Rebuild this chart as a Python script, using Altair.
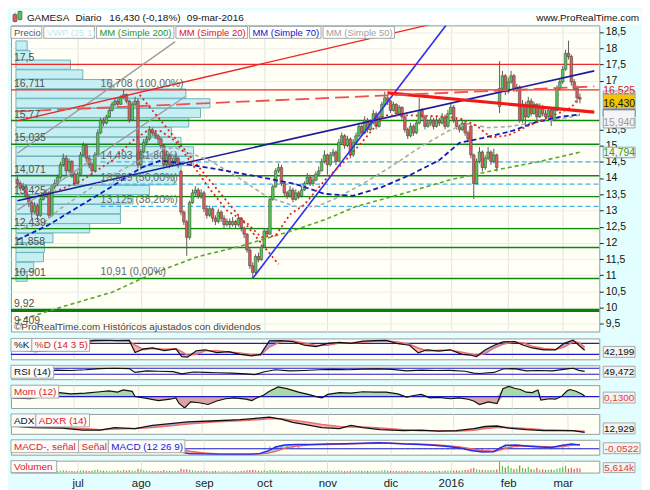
import json
import altair as alt
import pandas as pd

FONT = "Liberation Sans"
W = 592
HM = 308

# ---------------- daily prices (197 sessions, mid-Jun 2015 .. 09-mar-2016) ----------------
close = [13.83, 13.68, 13.73, 13.44, 13.24, 12.95, 13.14, 12.85, 13.34, 13.44,
         13.54, 12.85, 13.73, 13.83, 14.02, 14.41, 14.61, 14.22, 14.51, 14.12,
         13.83, 14.12, 14.71, 15.00, 14.61, 14.41, 14.22, 14.71, 15.39, 15.78,
         15.69, 15.88, 16.08, 16.27, 16.37, 16.27, 16.47, 16.57, 16.37, 15.78,
         16.27, 16.37, 14.41, 14.80, 15.10, 15.20, 15.49, 15.39, 15.30, 15.20,
         15.00, 14.41, 14.71, 14.41, 14.51, 14.61, 14.41, 12.95, 12.65, 12.17,
         13.24, 13.54, 13.63, 13.44, 13.54, 13.05, 12.85, 13.05, 12.76, 12.66,
         12.95, 12.76, 12.56, 12.66, 12.56, 12.66, 12.56, 12.76, 12.46, 12.27,
         11.78, 11.29, 11.09, 11.58, 11.48, 11.87, 12.36, 12.27, 13.34, 13.73,
         14.22, 14.32, 13.83, 13.54, 13.44, 13.63, 13.34, 13.54, 13.44, 13.63,
         13.83, 14.02, 13.83, 13.93, 14.12, 14.22, 14.51, 14.71, 14.41, 14.71,
         14.80, 14.51, 15.10, 15.30, 15.00, 15.20, 14.71, 15.10, 15.30, 15.59,
         15.39, 15.78, 15.49, 15.69, 15.98, 15.59, 15.88, 16.27, 16.47, 16.37,
         16.08, 16.27, 15.98, 16.18, 15.88, 15.49, 15.30, 15.59, 15.39, 15.69,
         16.08, 15.88, 15.59, 15.69, 15.78, 15.59, 15.78, 15.69, 15.88, 15.59,
         15.98, 16.18, 15.78, 15.59, 15.49, 15.69, 15.39, 15.20, 14.71, 13.83,
         14.51, 14.80, 14.32, 14.61, 14.80, 14.51, 14.71, 14.32, 16.76, 17.15,
         16.66, 16.96, 17.15, 16.76, 16.80, 15.78, 16.27, 15.88, 16.37, 15.98,
         16.27, 15.88, 16.18, 15.98, 15.88, 16.08, 15.78, 16.08, 16.76, 16.96,
         17.35, 17.84, 17.74, 16.96, 16.76, 16.47, 16.43]
high = [14.05, 13.90, 13.85, 13.80, 13.50, 13.30, 13.25, 13.20, 13.40, 13.55,
        13.65, 13.60, 13.80, 13.95, 14.10, 14.50, 14.75, 14.70, 14.60, 14.55,
        14.20, 14.20, 14.80, 15.10, 15.05, 14.70, 14.50, 14.80, 15.50, 15.85,
        15.85, 15.95, 16.15, 16.35, 16.45, 16.45, 16.55, 16.71, 16.60, 16.40,
        16.35, 16.50, 16.45, 14.90, 15.20, 15.30, 15.60, 15.55, 15.45, 15.35,
        15.25, 15.05, 14.85, 14.75, 14.60, 14.75, 14.65, 14.25, 13.00, 12.70,
        13.30, 13.65, 13.75, 13.70, 13.65, 13.60, 13.15, 13.15, 13.10, 12.85,
        13.05, 13.00, 12.85, 12.75, 12.75, 12.80, 12.70, 12.85, 12.80, 12.50,
        12.30, 11.85, 11.40, 11.65, 11.70, 11.95, 12.45, 12.45, 13.40, 13.80,
        14.30, 14.45, 14.40, 13.90, 13.60, 13.75, 13.70, 13.65, 13.60, 13.75,
        13.90, 14.15, 14.10, 14.05, 14.20, 14.35, 14.60, 14.85, 14.75, 14.80,
        14.90, 14.85, 15.20, 15.40, 15.35, 15.30, 15.25, 15.20, 15.40, 15.70,
        15.65, 15.90, 15.85, 15.80, 16.10, 16.05, 16.00, 16.35, 16.66, 16.55,
        16.40, 16.35, 16.30, 16.25, 16.20, 15.95, 15.55, 15.70, 15.65, 15.75,
        16.47, 16.15, 15.95, 15.80, 15.90, 15.85, 15.90, 15.85, 16.00, 15.95,
        16.10, 16.30, 16.25, 15.85, 15.65, 15.80, 15.75, 15.45, 15.65, 14.75,
        14.60, 14.95, 14.85, 14.70, 14.95, 14.85, 14.90, 14.75, 17.60, 17.30,
        17.20, 17.10, 17.30, 17.20, 16.90, 16.85, 16.40, 16.35, 16.50, 16.45,
        16.35, 16.30, 16.30, 16.25, 16.10, 16.20, 16.15, 16.20, 16.85, 17.05,
        17.45, 17.95, 18.23, 17.80, 17.05, 16.85, 16.60]
low = [13.75, 13.60, 13.60, 13.35, 13.10, 12.75, 12.90, 12.70, 12.80, 13.30,
       13.40, 12.75, 12.80, 13.65, 13.75, 13.95, 14.35, 14.10, 14.15, 14.00,
       13.75, 13.80, 14.10, 14.65, 14.50, 14.30, 14.10, 14.20, 14.70, 15.35,
       15.60, 15.65, 15.85, 16.05, 16.20, 16.20, 16.25, 16.45, 16.30, 15.70,
       15.75, 16.20, 14.30, 14.25, 14.75, 15.00, 15.15, 15.30, 15.20, 15.05,
       14.90, 14.30, 14.35, 14.30, 14.35, 14.45, 14.30, 12.85, 12.55, 11.60,
       12.10, 13.20, 13.45, 13.35, 13.35, 12.95, 12.75, 12.80, 12.65, 12.55,
       12.60, 12.65, 12.45, 12.50, 12.45, 12.50, 12.45, 12.50, 12.35, 12.15,
       11.70, 11.20, 10.91, 11.00, 11.40, 11.45, 11.85, 12.20, 12.25, 13.30,
       13.70, 14.15, 13.75, 13.45, 13.35, 13.40, 13.25, 13.30, 13.35, 13.40,
       13.60, 13.80, 13.75, 13.75, 13.90, 14.05, 14.20, 14.45, 14.10, 14.35,
       14.65, 14.40, 14.50, 15.05, 14.90, 14.95, 14.60, 14.65, 15.05, 15.25,
       15.30, 15.35, 15.40, 15.45, 15.65, 15.50, 15.55, 15.85, 16.20, 16.25,
       16.00, 16.05, 15.90, 15.95, 15.80, 15.40, 15.20, 15.25, 15.30, 15.35,
       15.65, 15.80, 15.50, 15.55, 15.60, 15.50, 15.55, 15.60, 15.65, 15.50,
       15.55, 15.95, 15.70, 15.50, 15.40, 15.45, 15.30, 15.10, 14.60, 13.35,
       13.80, 14.45, 14.20, 14.25, 14.55, 14.40, 14.45, 14.20, 16.00, 16.70,
       16.55, 16.60, 16.90, 16.65, 16.65, 15.70, 15.70, 15.60, 15.85, 15.90,
       15.95, 15.75, 15.85, 15.90, 15.80, 15.85, 15.60, 15.75, 16.05, 16.70,
       16.90, 17.30, 17.65, 16.85, 16.70, 16.30, 16.30]
first_open = 13.95
gap_opens = {57: 14.20, 158: 15.60, 168: 16.20}
volume = [2500, 2000, 1800, 2200, 3000, 2600, 2000, 2400, 2800, 3200,
          2600, 3500, 3000, 2200, 2000, 2600, 3200, 2400, 2000, 2200,
          1800, 2200, 2800, 3000, 2600, 2000, 2400, 3600, 4200, 3000,
          2600, 2400, 2200, 2000, 2600, 3000, 2400, 3800, 2600, 3200,
          2800, 2400, 5200, 4200, 3000, 2600, 2400, 2200, 2000, 2400,
          2200, 3400, 2600, 2400, 2000, 2200, 2400, 5000, 4000, 4400,
          3800, 3000, 2400, 2200, 2600, 2400, 2000, 1800, 2000, 2200,
          1800, 1600, 1800, 2000, 1600, 1800, 2000, 1800, 2400, 2600,
          3200, 3600, 3800, 3000, 2600, 2400, 3000, 2200, 3400, 3000,
          2800, 2600, 2400, 2200, 2000, 2200, 2400, 2000, 1800, 2000,
          2200, 2400, 2000, 2200, 2400, 2600, 2800, 2400, 2200, 2600,
          2200, 2000, 2800, 2400, 2000, 2200, 2600, 2200, 2400, 2600,
          2400, 2600, 2200, 2400, 2600, 2200, 2400, 2800, 3000, 2600,
          2400, 2200, 2000, 2200, 2000, 2600, 2400, 2200, 2000, 1800,
          2600, 2200, 2000, 1800, 2000, 2200, 2000, 2400, 2200, 2600,
          2400, 2600, 2800, 3000, 2600, 3200, 3400, 3600, 5600, 6400,
          4400, 3800, 3600, 3400, 3200, 3000, 3400, 4000, 14500, 9000,
          7000, 8800, 6000, 4400, 5000, 9600, 6400, 5200, 7800, 4800,
          4200, 6400, 3800, 4000, 3600, 3400, 4200, 3600, 5200, 6000,
          7200, 9200, 5400, 6600, 4800, 6000, 5614]

month_idx = [21, 43, 65, 86, 108, 130, 151, 171, 190]
month_lbl = ["jul", "ago", "sep", "oct", "nov", "dic", "2016", "feb", "mar"]
# 16 and 16,5 sit under the value flags in the reference, so they are not shown
price_ticks = [9.5, 10, 10.5, 11, 11.5, 12, 12.5, 13, 13.5, 14, 14.5, 15, 15.5,
               17, 17.5, 18, 18.5]

# volume-at-price profile
prof_price = [18.08, 17.78, 17.49, 17.19, 16.89, 16.60, 16.30, 16.00, 15.71, 15.41,
              15.11, 14.82, 14.52, 14.23, 13.93, 13.63, 13.34, 13.04, 12.74, 12.45,
              12.15, 11.85, 11.56, 11.26, 10.96]
prof_width = [3.4, 4.4, 18.5, 22.8, 32.9, 58.7, 67.1, 63.8, 59.7, 53.7,
              57.0, 61.4, 61.4, 57.0, 54.7, 46.0, 40.3, 35.9, 35.9, 25.2,
              12.4, 9.4, 9.1, 5.7, 3.4]

levels_green = [15.77, 15.035, 14.071, 13.425, 12.439, 11.858, 10.901]
level_thick = [9.92]
levels_red = [17.5, 16.711]
lvl_price = [17.5, 16.711, 15.77, 15.035, 14.071, 13.425, 12.439, 11.858, 10.901, 9.92, 9.409]
lvl_text = ["17,5", "16,711", "15,77", "15,035", "14,071", "13,425", "12,439", "11,858",
            "10,901", "9,92", "9,409"]
fib_price = [16.708, 14.493, 13.809, 13.125, 10.91]
fib_text = ["16,708 (100,00%)", "14,493 (61,80%)", "13,809 (50,00%)", "13,125 (38,20%)",
            "10,91 (0,00%)"]
fib_dashed = [14.493, 13.809, 13.125]
fib_start = 29

# drawn trend lines (start index, start price, end index, end price)
seg_name = ["gray1", "gray2", "navy", "blue", "reddiag", "redthick", "reddash", "reddot"]
seg_i0 = [0, 0, 0, 82, 0, 128.9, 0, 42.6]
seg_p0 = [14.76, 13.01, 13.30, 10.91, 15.76, 16.62, 16.05, 16.56]
seg_i1 = [55, 58.4, 201, 149.3, 144, 201, 201, 91]
seg_p1 = [18.20, 16.50, 17.30, 18.70, 18.73, 16.03, 16.82, 11.34]

# moving averages
ma20_idx = [13, 23, 33, 40, 45, 50, 55, 60, 67, 73, 80, 85, 90, 95, 100, 107, 114, 120,
            128, 137, 147, 154, 160, 165, 171, 178, 186, 193, 196]
ma20_v = [13.57, 13.95, 14.54, 15.14, 15.44, 15.44, 15.14, 14.54, 13.66, 13.00, 12.61, 12.17,
          12.23, 12.88, 13.18, 13.92, 14.51, 15.10, 15.93, 15.93, 15.90, 15.84, 15.61, 15.25,
          15.31, 15.61, 15.90, 16.17, 16.525]
ma70_idx = [0, 11, 22, 33, 43, 50, 67, 84, 97, 107, 117, 127, 137, 147, 154, 162, 172, 181, 189, 196]
ma70_v = [12.09, 12.56, 13.15, 13.74, 14.31, 14.54, 14.31, 14.04, 13.81, 13.51, 13.45, 13.72,
          14.10, 14.55, 15.08, 15.23, 15.44, 15.73, 15.88, 15.96]
ma50_idx = [0, 9, 15, 30, 44, 50, 55, 67, 77, 87, 97, 104, 110, 120, 130, 141, 151, 157, 164,
            171, 181, 191, 196]
ma50_v = [12.41, 12.61, 13.06, 13.95, 14.60, 14.90, 14.93, 14.54, 14.01, 13.42, 13.12, 13.12,
          13.33, 13.80, 14.34, 14.99, 15.49, 15.67, 15.55, 15.58, 15.73, 15.85, 15.94]
ma200_idx = [0, 16, 33, 47, 63, 77, 96, 107, 118, 134, 151, 167, 181, 196]
ma200_v = [9.60, 10.04, 10.48, 11.05, 11.58, 11.88, 12.38, 12.71, 13.12, 13.51, 13.95, 14.25,
           14.49, 14.794]

# right-hand value flags of the price panel
val_p = [15.96, 15.94, 16.525, 16.43, 14.794]
val_t = ["15,960", "15,940", "16,525", "16,430", "14,794"]

# ---------------- indicators ----------------
stoch_idx = [0, 4, 8, 12, 16, 20, 24, 28, 32, 36, 40, 42, 45, 48, 52, 56, 58, 60, 63, 66,
             70, 74, 78, 82, 85, 88, 92, 96, 100, 104, 108, 112, 116, 120, 124, 128, 132, 136,
             139, 142, 146, 150, 154, 157, 159, 162, 165, 168, 172, 175, 178, 182, 186, 189,
             192, 194, 196]
stoch_k = [50, 40, 35, 42, 60, 70, 88, 96, 97, 95, 96, 30, 50, 55, 40, 50, 8, 5, 40, 45,
           30, 35, 20, 12, 20, 94, 95, 90, 70, 62, 80, 85, 80, 92, 95, 96, 78, 70, 28, 45,
           38, 45, 20, 15, 8, 45, 70, 88, 90, 70, 55, 45, 45, 80, 98, 70, 42.2]
stoch_d = [52, 45, 38, 38, 50, 62, 80, 92, 95, 95, 95, 70, 45, 52, 48, 50, 35, 15, 20, 40,
           40, 33, 28, 18, 15, 60, 90, 93, 82, 68, 70, 82, 83, 86, 92, 95, 88, 75, 55, 38,
           42, 42, 32, 22, 15, 25, 55, 75, 88, 82, 65, 52, 46, 60, 88, 85, 58]

rsi_idx = [0, 5, 10, 15, 20, 25, 30, 35, 40, 42, 46, 50, 55, 58, 62, 66, 70, 75, 80, 83,
           86, 90, 95, 100, 105, 110, 115, 120, 125, 130, 135, 140, 145, 150, 155, 158, 160,
           165, 168, 172, 176, 180, 185, 190, 192, 194, 196]
rsi_v = [45, 40, 48, 58, 55, 60, 68, 70, 68, 42, 52, 50, 48, 32, 45, 42, 40, 38, 32, 28,
         45, 60, 52, 55, 60, 62, 60, 64, 66, 62, 52, 58, 55, 56, 50, 38, 35, 42, 65, 68,
         52, 55, 53, 66, 70, 56, 49.5]

mom_idx = [0, 6, 12, 16, 20, 25, 30, 33, 36, 38, 41, 42, 46, 50, 54, 56, 57, 59, 61, 64,
           67, 70, 73, 76, 80, 82, 84, 86, 88, 91, 94, 98, 102, 104, 106, 108, 112, 116, 120,
           124, 128, 132, 135, 138, 140, 143, 146, 150, 153, 156, 158, 160, 163, 166, 168,
           170, 172, 174, 176, 178, 180, 181, 184, 186, 188, 190, 191, 193, 195, 196]
mom_v = [-0.3, -0.5, 0.2, 0.9, 0.6, 0.8, 1.1, 1.3, 1.0, 1.5, 1.2, 0.0, -0.4, -0.9, -0.6,
         -0.3, -1.5, -2.6, -1.2, -1.4, -1.8, -1.0, -0.5, -0.3, -0.6, -0.9, -0.2, 0.3, 1.2,
         2.2, 1.8, 1.0, 0.4, 0.0, -0.3, 0.5, 0.9, 0.8, 1.1, 1.0, 1.0, 0.6, -0.1, 0.3, 0.5,
         -0.3, -0.2, -0.5, -0.3, -0.6, -1.0, -1.8, -1.2, -1.6, 1.8, 2.3, 1.9, 1.6, 1.0, 0.9,
         1.5, -0.8, -0.5, -0.6, 0.0, 1.3, 1.6, 1.2, 0.6, 0.13]

adx_idx = [0, 7, 17, 24, 30, 35, 42, 48, 55, 60, 70, 78, 84, 88, 92, 96, 100, 106, 112, 116,
           120, 126, 134, 140, 146, 152, 158, 162, 166, 170, 176, 182, 188, 192, 196]
adx_v = [25, 22, 21, 17, 17, 22, 20, 26, 30, 33, 35, 37, 40, 42, 38, 32, 28, 22, 20, 26,
         22, 18, 16, 17, 15, 16, 20, 24, 25, 21, 18, 16, 16, 16, 12.929]
adxr_v = [26, 24, 22, 20, 18, 19, 20, 22, 26, 29, 33, 35, 37, 39, 39, 36, 33, 28, 24, 23,
          23, 21, 18, 16, 16, 15, 17, 20, 22, 22, 20, 18, 17, 16, 15]

macd_idx = [56, 58, 60, 65, 70, 75, 80, 84, 87, 90, 93, 97, 102, 108, 114, 120, 126, 130,
            135, 140, 145, 150, 154, 158, 162, 166, 168, 170, 174, 178, 182, 186, 190, 193, 196]
macd_v = [-0.2, -0.45, -0.6, -0.62, -0.65, -0.65, -0.66, -0.6, -0.3, 0.2, 0.45, 0.5, 0.5,
          0.55, 0.6, 0.65, 0.7, 0.65, 0.55, 0.5, 0.4, 0.25, 0.1, -0.2, -0.38, -0.35, 0.05,
          0.4, 0.45, 0.3, 0.2, 0.15, 0.4, 0.55, 0.45]
signal_v = [-0.05, -0.15, -0.3, -0.5, -0.6, -0.63, -0.64, -0.63, -0.55, -0.3, 0.05, 0.3,
            0.45, 0.5, 0.55, 0.6, 0.65, 0.66, 0.6, 0.55, 0.47, 0.35, 0.2, 0.0, -0.2, -0.3,
            -0.2, 0.05, 0.3, 0.35, 0.27, 0.2, 0.25, 0.4, 0.5]
hist_idx = list(range(84, 197, 2))
hist_v = [0.03, 0.1, 0.25, 0.35, 0.4, 0.35, 0.25, 0.2, 0.1, 0.05,
          0.05, 0.05, 0.05, 0.05, 0.05, 0.05, 0.05, 0.05, 0.05, 0.05,
          0.05, 0.05, 0.02, -0.01, -0.03, -0.05, -0.05, -0.05, -0.05, -0.06,
          -0.07, -0.08, -0.1, -0.1, -0.1, -0.1, -0.15, -0.2, -0.2, -0.18,
          -0.1, -0.05, 0.25, 0.35, 0.3, 0.15, 0.05, -0.05, -0.07, -0.07,
          -0.05, -0.05, 0.1, 0.15, 0.15, 0.05, -0.05]

# ---------------- tables ----------------
n = len(close)
opens = [first_open] + close[:-1]
for k, v in gap_opens.items():
    opens[k] = v
df = pd.DataFrame({"i": list(range(n)), "open": opens, "close": close, "high": high,
                   "low": low, "vol": volume})
df["dir"] = ["up" if c >= o else "down" for c, o in zip(df["close"], df["open"])]
ONE = pd.DataFrame({"k": [0]})

xs = alt.Scale(domain=[-0.5, 201], nice=False, zero=False)
ax_x = alt.Axis(values=month_idx, grid=True, gridColor="#e3e3e3", labels=False, ticks=False,
                domain=False, title=None)
label_expr = "%s[indexof(%s, datum.value)]" % (json.dumps(month_lbl), json.dumps(month_idx))
ax_x_lab = alt.Axis(values=month_idx, grid=True, gridColor="#e3e3e3", labels=True,
                    labelExpr=label_expr, ticks=False, domain=False, title=None,
                    labelFont=FONT, labelFontSize=11.5, labelColor="#222", labelPadding=5)
ys_main = alt.Scale(domain=[9.27, 18.70], nice=False, zero=False)
ax_y_main = alt.Axis(orient="right", values=price_ticks,
                     labelExpr="replace(format(datum.value, '.1~f'), '.', ',')",
                     grid=True, gridColor="#ededed", tickSize=4, tickColor="#222",
                     labelFont=FONT, labelFontSize=10.5, labelColor="#111", labelPadding=2,
                     domain=False, title=None)


def X(f, lab=False):
    return alt.X(f, type="quantitative", scale=xs, axis=ax_x_lab if lab else ax_x)


def YM(f):
    return alt.Y(f, type="quantitative", scale=ys_main, axis=ax_y_main)


dircol = alt.Color("dir:N", scale=alt.Scale(domain=["up", "down"], range=["#4fca4f", "#e25a5a"]),
                   legend=None)


def tag(text, x0, x1, color, y0=0, y1=13, fill="#fbfbfb", size=10, align="left"):
    r = alt.Chart(ONE).mark_rect(fill=fill, stroke="#a8a8a8", strokeWidth=1).encode(
        x=alt.value(x0), x2=alt.value(x1), y=alt.value(y0), y2=alt.value(y1))
    tx = x0 + 3 if align == "left" else (x0 + x1) / 2
    t = alt.Chart(ONE).mark_text(text=text, align=align, baseline="middle", font=FONT,
                                 fontSize=size, color=color).encode(
        x=alt.value(tx), y=alt.value((y0 + y1) / 2 + 0.5))
    return [r, t]


# ---------------- price panel ----------------
prof = pd.DataFrame({"p": prof_price, "w": prof_width})
profile = alt.Chart(prof).transform_calculate(
    x0="-0.5", lo="datum.p - 0.142", hi="datum.p + 0.142").mark_rect(
    fill="#c6eff3", stroke="#6fb3ba", strokeWidth=1).encode(
    x=X("x0"), x2=alt.X2("w"), y=YM("lo"), y2=alt.Y2("hi"))

g_rules = alt.Chart(pd.DataFrame({"p": levels_green})).mark_rule(
    color="#0c880c", strokeWidth=1.5).encode(y=YM("p"))
g_thick = alt.Chart(pd.DataFrame({"p": level_thick})).mark_rule(
    color="#0a7d0a", strokeWidth=3.5).encode(y=YM("p"))
r_rules = alt.Chart(pd.DataFrame({"p": levels_red})).mark_rule(
    color="#ee2a2a", strokeWidth=1.3).encode(y=YM("p"))
fib_rules = alt.Chart(pd.DataFrame({"p": fib_dashed, "i0": [fib_start] * len(fib_dashed)})).mark_rule(
    color="#3cb6f2", strokeWidth=1.3, strokeDash=[5, 3]).encode(
    x=X("i0"), x2=alt.value(W), y=YM("p"))

segs = pd.DataFrame({"name": seg_name, "i0": seg_i0, "p0": seg_p0, "i1": seg_i1, "p1": seg_p1})
seg_style = {
    "gray1": dict(color="#9a9a9a", strokeWidth=1.3),
    "gray2": dict(color="#9a9a9a", strokeWidth=1.3),
    "navy": dict(color="#1b1b9e", strokeWidth=1.6),
    "blue": dict(color="#2f2ff5", strokeWidth=1.6),
    "reddiag": dict(color="#ee2222", strokeWidth=1.4),
    "redthick": dict(color="#f01818", strokeWidth=3.2),
    "reddash": dict(color="#f05050", strokeWidth=1.8, strokeDash=[14, 6]),
    "reddot": dict(color="#e82020", strokeWidth=1.8, strokeDash=[2, 3]),
}
seg_layers = []
for nm in seg_name:
    seg_layers.append(alt.Chart(segs).transform_filter(alt.datum.name == nm).mark_rule(
        clip=True, **seg_style[nm]).encode(x=X("i0"), x2=alt.X2("i1"), y=YM("p0"), y2=alt.Y2("p1")))


def ma_line(idx, vals, color, dash, width):
    d = pd.DataFrame({"i": idx, "v": vals})
    return alt.Chart(d).mark_line(color=color, strokeDash=dash, strokeWidth=width, clip=True).encode(
        x=X("i"), y=YM("v"))


ma_layers = [
    ma_line(ma200_idx, ma200_v, "#56a82a", [4, 3], 1.6),
    ma_line(ma50_idx, ma50_v, "#aaaaaa", [4, 3], 1.6),
    ma_line(ma70_idx, ma70_v, "#1818b8", [5, 3], 1.8),
    ma_line(ma20_idx, ma20_v, "#e52222", [2, 3], 1.8),
]

wicks = alt.Chart(df).mark_rule(color="#5c5c5c", strokeWidth=1).encode(
    x=X("i"), y=YM("low"), y2=alt.Y2("high"))
bodies = alt.Chart(df).mark_bar(size=2.6, stroke="#4a4a4a", strokeWidth=0.6).encode(
    x=X("i"), y=YM("open"), y2=alt.Y2("close"), color=dircol)

lvl_lbl = alt.Chart(pd.DataFrame({"p": lvl_price, "t": lvl_text})).mark_text(
    align="left", baseline="bottom", dy=-1, font=FONT, fontSize=10.5, color="#505050").encode(
    x=alt.value(3), y=YM("p"), text="t")
fib_lbl = alt.Chart(pd.DataFrame({"p": fib_price, "t": fib_text,
                                  "i0": [fib_start] * len(fib_price)})).mark_text(
    align="left", baseline="bottom", dy=-1, font=FONT, fontSize=10.5, color="#666666").encode(
    x=X("i0"), y=YM("p"), text="t")

vals = pd.DataFrame({"p": val_p, "t": val_t})
val_style = [  # text colour, fill, vertical shift (px), text shown
    ("#2020d0", "#f4f4f4", -3, False),
    ("#9a9a9a", "#f4f4f4", 8, True),
    ("#e01818", "#f4f4f4", -6, True),
    ("#111111", "#f5c400", 4.5, True),
    ("#3c9a14", "#f4f4f4", 0.5, True),
]
val_layers = []
for k, (tc, fc, off, show) in enumerate(val_style):
    sel = vals.iloc[[k]]
    val_layers.append(alt.Chart(sel).transform_calculate(
        lo="datum.p - 0.155", hi="datum.p + 0.155").mark_rect(
        fill=fc, stroke="#a0a0a0" if show else tc, strokeWidth=1, yOffset=off).encode(
        x=alt.value(W + 4), x2=alt.value(W + 36), y=YM("lo"), y2=alt.Y2("hi")))
    if show:
        val_layers.append(alt.Chart(sel).mark_text(
            align="center", baseline="middle", font=FONT, fontSize=10.5, color=tc,
            yOffset=off + 0.5).encode(x=alt.value(W + 20), y=YM("p"), text="t"))

# header band + legend row
header = [
    alt.Chart(ONE).mark_rect(fill="#ffffff").encode(
        x=alt.value(0), x2=alt.value(W + 42), y=alt.value(-15), y2=alt.value(-1)),
    alt.Chart(ONE).mark_rule(color="#777", strokeWidth=1).encode(
        x=alt.value(4), y=alt.value(-13), y2=alt.value(-3)),
    alt.Chart(ONE).mark_rect(fill="#e25a5a", stroke="#555", strokeWidth=0.7).encode(
        x=alt.value(2), x2=alt.value(6), y=alt.value(-11), y2=alt.value(-4)),
    alt.Chart(ONE).mark_rule(color="#777", strokeWidth=1).encode(
        x=alt.value(9), y=alt.value(-15), y2=alt.value(-5)),
    alt.Chart(ONE).mark_rect(fill="#4fca4f", stroke="#555", strokeWidth=0.7).encode(
        x=alt.value(7), x2=alt.value(11), y=alt.value(-14), y2=alt.value(-6)),
]
for txt, x0 in [("GAMESA", 16), ("Diario", 65), ("16,430 (-0,18%)", 99), ("09-mar-2016", 177)]:
    header.append(alt.Chart(ONE).mark_text(text=txt, align="left", baseline="middle", font=FONT,
                                           fontSize=10, color="#111").encode(
        x=alt.value(x0), y=alt.value(-7)))
header.append(alt.Chart(ONE).mark_text(text="www.ProRealTime.com", align="right", baseline="middle",
                                       font=FONT, fontSize=10, color="#111").encode(
    x=alt.value(W + 40), y=alt.value(-7)))

legend_row = []
for txt, x0, x1, col in [("Precio", 0, 31, "#555555"), ("VWP (25 1)", 33, 84, "#bcecec"),
                         ("MM (Simple 200)", 86, 164, "#1a961a"),
                         ("MM (Simple 20)", 166, 238, "#e01010"),
                         ("MM (Simple 70)", 240, 312, "#1212cc"),
                         ("MM (Simple 50)", 314, 386, "#a0a0a0")]:
    legend_row += tag(txt, x0, x1, col, y0=1, y1=13, fill="#ffffff", size=9.5)

footer = alt.Chart(ONE).mark_text(text="©ProRealTime.com  Históricos ajustados con dividendos",
                                  align="left", baseline="middle", font=FONT, fontSize=10,
                                  color="#444").encode(x=alt.value(3), y=alt.value(HM - 4))

main = alt.layer(profile, g_rules, g_thick, r_rules, fib_rules, wicks, bodies, *seg_layers,
                 *ma_layers, lvl_lbl, fib_lbl, footer, *val_layers, *legend_row,
                 *header).properties(width=W, height=HM)


# ---------------- indicator panels ----------------
def vbox(text, y0, y1, color, x1=W + 36):
    return tag(text, W + 4, x1, color, y0=y0, y1=y1, fill="#f3f3f3", size=10, align="center")


def between(d, a, b, sc, c_a_low, c_a_high):
    base = alt.Chart(d).transform_calculate(mx="max(datum.%s, datum.%s)" % (a, b))
    lo_area = base.mark_area(color=c_a_low, opacity=0.85, clip=True).encode(
        x=X("i"), y=alt.Y(a, type="quantitative", scale=sc, axis=None), y2=alt.Y2("mx"))
    hi_area = base.mark_area(color=c_a_high, opacity=0.85, clip=True).encode(
        x=X("i"), y=alt.Y(b, type="quantitative", scale=sc, axis=None), y2=alt.Y2("mx"))
    return [lo_area, hi_area]


def line(d, f, sc, color, width, lab=False):
    return alt.Chart(d).mark_line(color=color, strokeWidth=width, clip=True).encode(
        x=X("i", lab), y=alt.Y(f, type="quantitative", scale=sc, axis=None))


def hrule(vals_, sc, color="#1a1ad0", width=1.2):
    return alt.Chart(pd.DataFrame({"p": vals_})).mark_rule(color=color, strokeWidth=width).encode(
        y=alt.Y("p", type="quantitative", scale=sc, axis=None))


# stochastic
sc_st = alt.Scale(domain=[-7, 107], nice=False, zero=False)
st_df = pd.DataFrame({"i": stoch_idx, "k": stoch_k, "d": stoch_d})
stoch = alt.layer(
    *between(st_df, "k", "d", sc_st, "#f2a4a4", "#9c9ff0"),
    hrule([80, 20], sc_st),
    line(st_df, "d", sc_st, "#ef6d6d", 1.5),
    line(st_df, "k", sc_st, "#111111", 1.2),
    *tag("%K", 0, 21, "#111"), *tag("%D (14 3 5)", 21, 79, "#e02020"),
    *vbox("42,199", 8, 19, "#111"),
).properties(width=W, height=21)

# RSI
sc_rsi = alt.Scale(domain=[-3, 90], nice=False, zero=False)
rsi_df = pd.DataFrame({"i": rsi_idx, "v": rsi_v})
rsi = alt.layer(
    hrule([70, 30], sc_rsi),
    line(rsi_df, "v", sc_rsi, "#111111", 1.2),
    *tag("RSI (14)", 0, 43, "#111", y0=0, y1=13),
    *vbox("49,472", 1, 12, "#111"),
).properties(width=W, height=14)

# momentum
sc_mom = alt.Scale(domain=[-2.6, 2.6], nice=False, zero=False)
mom_df = pd.DataFrame({"i": mom_idx, "v": mom_v})
mom_base = alt.Chart(mom_df).transform_calculate(
    pos="max(datum.v, 0)", neg="min(datum.v, 0)", z="0")
mom = alt.layer(
    mom_base.mark_area(color="#9fd59f", opacity=0.9, clip=True).encode(
        x=X("i"), y=alt.Y("pos", type="quantitative", scale=sc_mom, axis=None), y2=alt.Y2("z")),
    mom_base.mark_area(color="#d69a9a", opacity=0.9, clip=True).encode(
        x=X("i"), y=alt.Y("neg", type="quantitative", scale=sc_mom, axis=None), y2=alt.Y2("z")),
    hrule([0], sc_mom),
    line(mom_df, "v", sc_mom, "#111111", 1.2),
    *tag("Mom (12)", 0, 48, "#e02020"),
    *vbox("0,1300", 7, 18, "#e23a3a"),
).properties(width=W, height=23)

# ADX
sc_adx = alt.Scale(domain=[10, 48], nice=False, zero=False)
adx_df = pd.DataFrame({"i": adx_idx, "a": adx_v, "r": adxr_v})
adx = alt.layer(
    *between(adx_df, "a", "r", sc_adx, "#f2a8a8", "#a4a4ee"),
    line(adx_df, "r", sc_adx, "#ef6d6d", 1.5),
    line(adx_df, "a", sc_adx, "#111111", 1.3),
    *tag("ADX", 0, 25, "#111"), *tag("ADXR (14)", 25, 79, "#e02020"),
    *vbox("12,929", 9, 20, "#111"),
).properties(width=W, height=20)

# MACD
sc_macd = alt.Scale(domain=[-0.7, 1.05], nice=False, zero=False)
macd_df = pd.DataFrame({"i": macd_idx, "m": macd_v, "s": signal_v})
hist_df = pd.DataFrame({"i": hist_idx, "h": hist_v})
hist_df["dir"] = ["up" if h >= 0 else "down" for h in hist_df["h"]]
macd = alt.layer(
    *between(macd_df, "m", "s", sc_macd, "#f2b0b0", "#a9c9ee"),
    alt.Chart(hist_df).transform_calculate(z="0").mark_bar(size=1.3).encode(
        x=X("i"), y=alt.Y("h", type="quantitative", scale=sc_macd, axis=None), y2=alt.Y2("z"),
        color=dircol),
    hrule([0], sc_macd),
    line(macd_df, "s", sc_macd, "#ef6060", 1.4),
    line(macd_df, "m", sc_macd, "#2a2ae6", 1.5),
    *tag("MACD-, señal", 0, 68, "#e02020"), *tag("Señal", 68, 98, "#e02020"),
    *tag("MACD (12 26 9)", 98, 175, "#1a1ad0"),
    *vbox("-0,0522", 3, 14, "#e23a3a", x1=W + 41),
).properties(width=W, height=15)

# volume
sc_vol = alt.Scale(domain=[0, 16000], nice=False, zero=True)
volc = alt.layer(
    alt.Chart(df).transform_calculate(z="0").mark_bar(size=1.2).encode(
        x=X("i", True), y=alt.Y("vol", type="quantitative", scale=sc_vol, axis=None),
        y2=alt.Y2("z"), color=dircol),
    *tag("Volumen", 0, 46, "#e02020", y0=0, y1=12),
    *vbox("5,614k", 2, 12, "#e23a3a"),
).properties(width=W, height=12)

chart = alt.vconcat(main, stoch, rsi, mom, adx, macd, volc, spacing=4).properties(
    background="#e2fefe", padding={"left": 0, "top": 0, "right": 0, "bottom": 0}
).configure_view(fill="#fffff5", stroke="#9a9a9a", strokeWidth=1)

chart.save("out.html", embed_options={"renderer": "svg", "actions": False})
